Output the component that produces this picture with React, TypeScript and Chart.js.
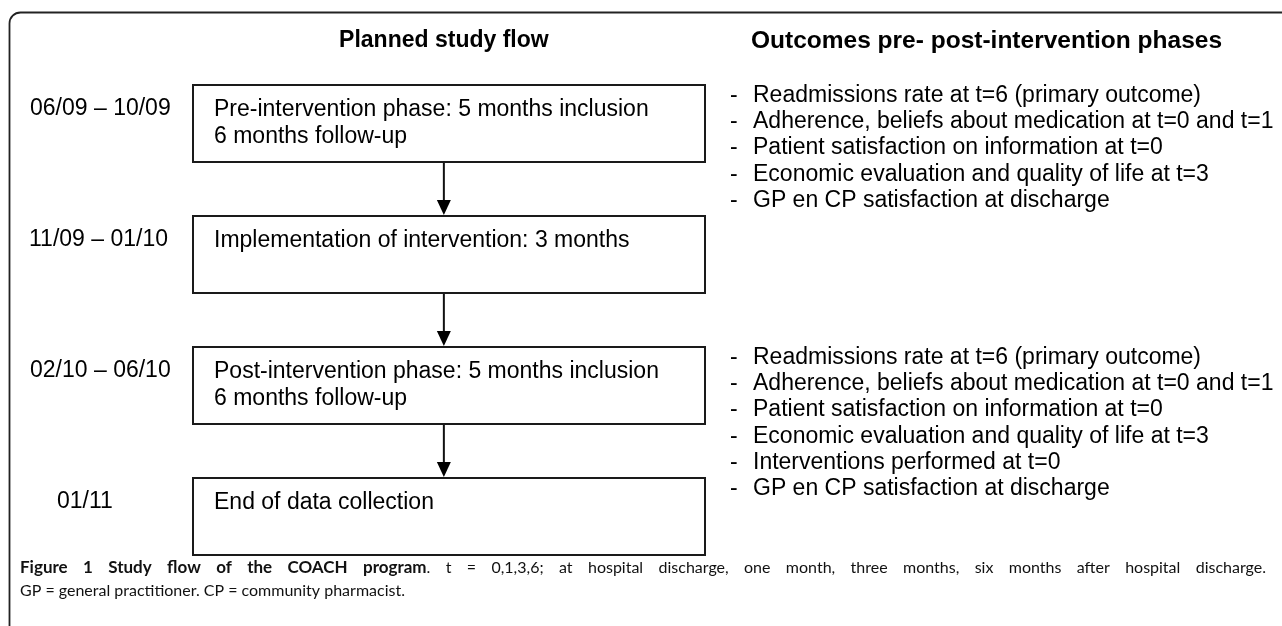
import React, { useEffect, useRef } from "react";
import { Chart, registerables } from "chart.js";

Chart.register(...registerables);

// ---------- data ----------
const phaseDates = ["06/09 – 10/09", "11/09 – 01/10", "02/10 – 06/10", "01/11"];
const phaseLines = [
  ["Pre-intervention phase: 5 months inclusion", "6 months follow-up"],
  ["Implementation of intervention: 3 months"],
  ["Post-intervention phase: 5 months inclusion", "6 months follow-up"],
  ["End of data collection"],
];
const phaseSpan = [1, 1, 1, 1];
const preOutcomes = [
  "Readmissions rate at t=6 (primary outcome)",
  "Adherence, beliefs about medication at t=0 and t=1",
  "Patient satisfaction on information at t=0",
  "Economic evaluation and quality of life at t=3",
  "GP en CP satisfaction at discharge",
];
const postOutcomes = [
  "Readmissions rate at t=6 (primary outcome)",
  "Adherence, beliefs about medication at t=0 and t=1",
  "Patient satisfaction on information at t=0",
  "Economic evaluation and quality of life at t=3",
  "Interventions performed at t=0",
  "GP en CP satisfaction at discharge",
];
const headingFlow = "Planned study flow";
const headingOutcomes = "Outcomes pre- post-intervention phases";
const captionBold = "Figure 1 Study flow of the COACH program";
const captionRest =
  ". t = 0,1,3,6; at hospital discharge, one month, three months, six months after hospital discharge.";
const captionLine2 = "GP = general practitioner. CP = community pharmacist.";

// ---------- layout / style ----------
const W = 1282;
const H = 626;
const FONT = '"Liberation Sans", Arial, sans-serif';
const CAP_FONT = 'Lato, "Open Sans", sans-serif';
const outcomesByPhase = [preOutcomes, [] as string[], postOutcomes, [] as string[]];
const dateX = [30, 29, 30, 57];

const flowPlugin = {
  id: "flowPlugin",
  afterDatasetsDraw(chart: any) {
    const ctx: CanvasRenderingContext2D = chart.ctx;
    const meta = chart.getDatasetMeta(0);
    const els = meta.data as any[];
    ctx.save();

    // frame
    ctx.strokeStyle = "#222";
    ctx.lineWidth = 1.8;
    const fx = 9.5, fy = 12.5, r = 11;
    ctx.beginPath();
    ctx.moveTo(fx, H + 20);
    ctx.lineTo(fx, fy + r);
    ctx.arcTo(fx, fy, fx + r, fy, r);
    ctx.lineTo(W + 20, fy);
    ctx.stroke();

    const left = els[0].base;
    const right = els[0].x;
    const arrowX = left + (right - left) * 0.49;

    // headings
    ctx.fillStyle = "#000";
    ctx.textBaseline = "middle";
    ctx.font = `bold 23px ${FONT}`;
    ctx.textAlign = "center";
    ctx.fillText(headingFlow, arrowX, 41);
    ctx.textAlign = "left";
    ctx.font = `bold 24.5px ${FONT}`;
    ctx.fillText(headingOutcomes, 751, 41);

    ctx.font = `23px ${FONT}`;
    els.forEach((el: any, i: number) => {
      const top = el.y - el.height / 2;
      const bottom = el.y + el.height / 2;
      ctx.textAlign = "left";
      ctx.fillText(phaseDates[i], dateX[i], el.y - 14.5);
      phaseLines[i].forEach((line, j) => {
        ctx.fillText(line, left + 22, el.y - 13.5 + j * 27);
      });
      outcomesByPhase[i].forEach((o, j) => {
        const yy = top + 11.5 + j * 26.3;
        ctx.fillText("-", 730, yy);
        ctx.fillText(o, 753, yy);
      });
      if (i < els.length - 1) {
        const nTop = els[i + 1].y - els[i + 1].height / 2;
        ctx.strokeStyle = "#111";
        ctx.lineWidth = 2;
        ctx.beginPath();
        ctx.moveTo(arrowX, bottom);
        ctx.lineTo(arrowX, nTop - 14);
        ctx.stroke();
        ctx.fillStyle = "#000";
        ctx.beginPath();
        ctx.moveTo(arrowX - 7, nTop - 15);
        ctx.lineTo(arrowX + 7, nTop - 15);
        ctx.lineTo(arrowX, nTop);
        ctx.closePath();
        ctx.fill();
      }
    });

    // caption line 1 (justified)
    const words: { text: string; bold: boolean }[][] = [];
    captionBold.split(" ").forEach((w) => words.push([{ text: w, bold: true }]));
    const rw = captionRest.split(" ");
    words[words.length - 1].push({ text: rw[0], bold: false });
    rw.slice(1).forEach((w) => words.push([{ text: w, bold: false }]));
    const fontFor = (b: boolean) => (b ? `bold 17px ${CAP_FONT}` : `16px ${CAP_FONT}`);
    const widthOf = (segs: { text: string; bold: boolean }[]) =>
      segs.reduce((s, g) => {
        ctx.font = fontFor(g.bold);
        return s + ctx.measureText(g.text).width;
      }, 0);
    const capLeft = 20, capRight = 1266;
    const total = words.reduce((s, w) => s + widthOf(w), 0);
    const gap = (capRight - capLeft - total) / (words.length - 1);
    let cx = capLeft;
    ctx.textAlign = "left";
    ctx.fillStyle = "#111";
    words.forEach((w) => {
      w.forEach((g) => {
        ctx.font = fontFor(g.bold);
        ctx.fillText(g.text, cx, 568);
        cx += ctx.measureText(g.text).width;
      });
      cx += gap;
    });
    ctx.font = fontFor(false);
    ctx.fillText(captionLine2, capLeft, 591);

    ctx.restore();
  },
};

export default function App() {
  const ref = useRef<HTMLCanvasElement>(null);
  useEffect(() => {
    document.body.style.margin = "0";
    const chart = new Chart(ref.current!, {
      type: "bar",
      data: {
        labels: phaseLines.map((l) => l[0]),
        datasets: [
          {
            data: phaseSpan,
            backgroundColor: "#ffffff",
            borderColor: "#1a1a1a",
            borderWidth: 2,
            borderSkipped: false,
            barPercentage: 1,
            categoryPercentage: 79 / 131,
          },
        ],
      },
      options: {
        indexAxis: "y",
        responsive: false,
        animation: false,
        events: [],
        layout: { padding: { left: 192, right: W - 706, top: 58, bottom: H - 582 } },
        scales: {
          x: { display: false, min: 0, max: 1 },
          y: { display: false },
        },
        plugins: { legend: { display: false }, tooltip: { enabled: false } },
      },
      plugins: [flowPlugin],
    } as any);
    return () => chart.destroy();
  }, []);
  return (
    <div style={{ position: "fixed", left: 0, top: 0, width: W, height: H, background: "#fff" }}>
      <canvas ref={ref} width={W} height={H} style={{ display: "block" }} />
    </div>
  );
}
